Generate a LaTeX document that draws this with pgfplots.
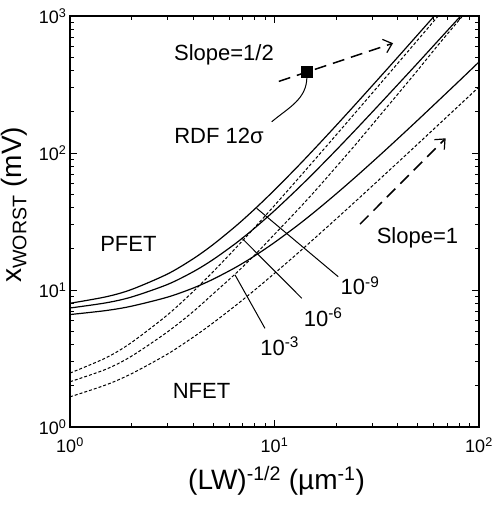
\documentclass[border=0pt]{standalone}
\usepackage{fontspec}
\setmainfont{Liberation Sans}
\usepackage{pgfplots}
\pgfplotsset{compat=1.18}
\usetikzlibrary{arrows.meta}

\begin{document}
\begin{tikzpicture}
\begin{axis}[
  xmode=log, ymode=log,
  scale only axis, width=409bp, height=411bp,
  xmin=1, xmax=100, ymin=1, ymax=1000,
  xtick={1,10,100},
  xticklabels={10\textsuperscript{0},10\textsuperscript{1},10\textsuperscript{2}},
  ytick={1,10,100,1000},
  yticklabels={10\textsuperscript{0},10\textsuperscript{1},10\textsuperscript{2},10\textsuperscript{3}},
  tick align=inside,
  major tick length=7bp, minor tick length=4bp,
  axis line style={line width=1.2bp},
  every tick/.style={black, line width=0.8bp},
  tick label style={font=\fontsize{18bp}{20bp}\selectfont},
  xticklabel style={yshift=-7bp},
  xlabel={(LW)\textsuperscript{-1/2} (µm\textsuperscript{-1})},
  ylabel={x\textsubscript{WORST} (mV)},
  label style={font=\fontsize{28bp}{32bp}\selectfont},
  xlabel style={at={(axis description cs:0.505,-0.153)}, anchor=base},
  ylabel style={at={(axis description cs:-0.119,0.541)}, anchor=base},
  clip=true,
]
% PFET, solid
\addplot[black, line width=1.2bp, smooth] coordinates {
 (1,8.00) (1.5,8.92) (2,10.09) (3,13.09) (4,16.89) (5,21.42) (6.5,29.48)
 (8,38.97) (10,53.68) (13,79.88) (16,110.7) (20,158.5) (25,228.4)
 (32,343.9) (40,499.0) (50,726.2) (63,1072)};
\addplot[black, line width=1.2bp, smooth] coordinates {
 (1,7.39) (1.5,8.06) (2,8.89) (3,10.98) (4,13.58) (5,16.65) (6.5,22.05)
 (8,28.33) (10,37.96) (13,54.90) (16,74.59) (20,104.8) (25,148.5)
 (32,219.9) (40,314.8) (50,451.4) (63,658.4) (80,972.7) (100,1403)};
\addplot[black, line width=1.2bp, smooth] coordinates {
 (1,6.62) (1.5,7.08) (2,7.62) (3,8.87) (4,10.33) (5,11.97) (6.5,14.71)
 (8,17.75) (10,22.23) (13,29.71) (16,38.03) (20,50.25) (25,67.12)
 (32,93.41) (40,126.8) (50,172.9) (63,239.4) (80,335.8) (100,461.9)};
% NFET, dashed
\addplot[black, line width=1bp, dash pattern=on 3bp off 2bp, smooth] coordinates {
 (1,2.475) (1.5,3.20) (2,4.14) (3,6.59) (4,9.74) (5,13.56) (6.5,20.42)
 (8,28.60) (10,41.41) (13,64.52) (16,92.01) (20,135.1) (25,198.8)
 (32,305.2) (40,450.2) (50,664.5) (63,995.1) (80,1510)};
\addplot[black, line width=1bp, dash pattern=on 3bp off 2bp, smooth] coordinates {
 (1,2.14) (1.5,2.64) (2,3.29) (3,4.95) (4,6.95) (5,9.35) (6.5,13.3)
 (8,18.0) (10,25.5) (13,38.5) (16,54.0) (20,79.0) (25,116.0)
 (32,180.0) (40,268.0) (50,400.0) (63,612.0) (80,935.0) (100,1377)};
\addplot[black, line width=1bp, dash pattern=on 3bp off 2bp, smooth] coordinates {
 (1,1.66) (1.5,2.03) (2,2.45) (3,3.41) (4,4.52) (5,5.74) (6.5,7.77)
 (8,9.99) (10,13.23) (13,18.57) (16,24.44) (20,32.97) (25,44.62)
 (32,62.56) (40,85.04) (50,115.8) (63,159.6) (80,222.5) (100,303.8)};

% slope guides
\addplot[black, line width=1.5bp, dash pattern=on 12bp off 7bp,
  -{Straight Barb[length=8bp,width=14bp,line width=1.2bp]}] coordinates {(10.5,333) (38,633)};
\addplot[black, line width=1.5bp, dash pattern=on 12bp off 7bp,
  -{Straight Barb[length=8bp,width=14bp,line width=1.2bp]}] coordinates {(26.2,30.3) (68.7,128)};

% RDF point
\addplot[only marks, mark=square*, mark size=5.5bp, black] coordinates {(14.4,390)};
\draw[line width=1bp] (axis cs:9.69,169) to[out=40,in=-90] (axis cs:14.4,360);

% probability leaders
\draw[line width=1bp] (axis cs:8.18,39.5) -- (axis cs:20.5,12.5);
\draw[line width=1bp] (axis cs:6.91,24.0) -- (axis cs:13.6,8.70);
\draw[line width=1bp] (axis cs:6.41,12.9) -- (axis cs:8.98,5.25);

\begin{scope}[every node/.style={font=\fontsize{22bp}{24bp}\selectfont, inner sep=0pt}]
\node at (axis cs:1.93,21.7) {PFET};
\node at (axis cs:4.40,1.83) {NFET};
\node at (axis cs:50.0,24.2) {Slope=1};
\node at (axis cs:5.66,519) {Slope=1/2};
\node at (axis cs:5.35,133) {RDF 12σ};
\node at (axis cs:26.2,10.7) {10\textsuperscript{-9}};
\node at (axis cs:17.3,6.35) {10\textsuperscript{-6}};
\node at (axis cs:10.6,3.90) {10\textsuperscript{-3}};
\end{scope}
\end{axis}
\pgfresetboundingbox
\path[use as bounding box] (current axis.south west) ++(-70bp,-81bp) rectangle ++(497bp,508bp);
\end{tikzpicture}
\end{document}
